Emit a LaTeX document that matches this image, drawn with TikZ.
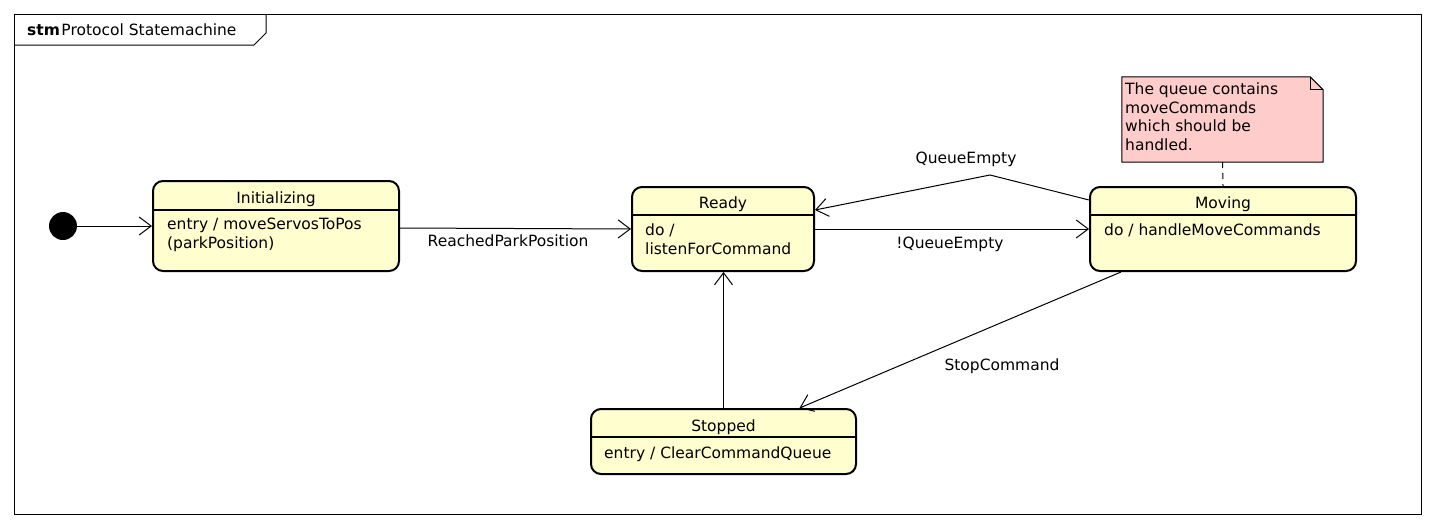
\documentclass[tikz,border=0pt]{standalone}
\usepackage{fontspec}
\setmainfont{DejaVu Sans}
\usetikzlibrary{arrows.meta,calc}
\definecolor{statefill}{HTML}{FEFECE}
\definecolor{notefill}{HTML}{FFCCCC}
\begin{document}
\begin{tikzpicture}[x=1pt,y=-1pt,
  font=\fontsize{15.5}{18}\selectfont,
  state/.style={draw=black, line width=2pt, fill=statefill, rounded corners=10pt, inner sep=0pt},
  sepline/.style={line width=1.2pt},
  txt/.style={inner sep=0pt, anchor=base west},
  ttl/.style={inner sep=0pt, anchor=base},
  tr/.style={line width=1pt, -{Straight Barb[length=12pt,width=18pt,line width=1pt]}},
  frameline/.style={line width=1pt},
  notebox/.style={fill=notefill, line width=1pt, line join=miter}
]
\useasboundingbox (0,0) rectangle (1434,528);

% frame
\draw[frameline] (14,14) rectangle (1421,514);
\draw[frameline] (14,45) -- (254,45) -- (266,33) -- (266,14);
\node[txt] (ftitle) at (27,35) {\textbf{stm}\kern1.5pt Protocol Statemachine};

% initial state
\node[circle, fill=black, minimum size=28pt, inner sep=0pt] (start) at (63,226) {};

% Initializing
\node[state, minimum width=246pt, minimum height=90pt] (ini) at (276,226) {};
\draw[sepline] ($(ini.north west)+(0,30)$) -- ($(ini.north east)+(0,30)$);
\node[ttl] (initl) at (276,203) {Initializing};
\node[txt] (inib1) at (167,229) {entry / moveServosToPos};
\node[txt] (inib2) at (167,248) {(parkPosition)};

% Ready
\node[state, minimum width=182pt, minimum height=84pt] (ready) at (723,229) {};
\draw[sepline] ($(ready.north west)+(0,29)$) -- ($(ready.north east)+(0,29)$);
\node[ttl] (readyt) at (723,208) {Ready};
\node[txt] (readyb1) at (645,235) {do /};
\node[txt] (readyb2) at (645,254) {listenForCommand};

% Moving
\node[state, minimum width=266pt, minimum height=84pt] (moving) at (1223,229) {};
\draw[sepline] ($(moving.north west)+(0,29)$) -- ($(moving.north east)+(0,29)$);
\node[ttl] (movingt) at (1223,208) {Moving};
\node[txt] (movingb) at (1104,235) {do / handleMoveCommands};

% Stopped
\node[state, minimum width=265pt, minimum height=65pt] (stopped) at (723.5,441.5) {};
\draw[sepline] ($(stopped.north west)+(0,29)$) -- ($(stopped.north east)+(0,29)$);
\node[ttl] (stoppedt) at (723.5,431) {Stopped};
\node[txt] (stoppedb) at (604,458) {entry / ClearCommandQueue};

% note
\node[minimum width=201pt, minimum height=85pt, inner sep=0pt] (note) at (1222.5,119.5) {};
\draw[notebox] (note.north west) -- ($(note.north east)+(-13,0)$) -- ($(note.north east)+(0,13)$) -- (note.south east) -- (note.south west) -- cycle;
\draw[line width=1pt] ($(note.north east)+(-13,0)$) -- ($(note.north east)+(-13,13)$) -- ($(note.north east)+(0,13)$);
\node[txt] (n1) at (1125,94) {The queue contains};
\node[txt] (n2) at (1125,113) {moveCommands};
\node[txt] (n3) at (1125,131) {which should be};
\node[txt] (n4) at (1125,150) {handled.};
\draw[line width=1pt, dash pattern=on 6pt off 5pt] (note.south) -- (moving.north);

% transitions
\draw[tr] (start) -- (ini);
\draw[tr] ($(ini.east)+(0,2)$) -- (ready.west);
\node[ttl] (l1) at (508,246) {ReachedParkPosition};
\draw[tr] (ready.east) -- (moving.west);
\node[ttl] (l2) at (950,248) {!QueueEmpty};
\coordinate (qe) at (990,175);
\draw[tr] ($(moving.west)+(0,-29)$) -- (qe) -- ($(ready.east)+(0,-19)$);
\node[ttl] (l3) at (966,163) {QueueEmpty};
\draw[tr] ($(moving.south west)+(32,0)$) -- ($(stopped.north)+(76,0)$);
\node[ttl] (l4) at (1002,370) {StopCommand};
\draw[tr] (stopped.north) -- (stopped.north |- ready.south);
\end{tikzpicture}
\end{document}
